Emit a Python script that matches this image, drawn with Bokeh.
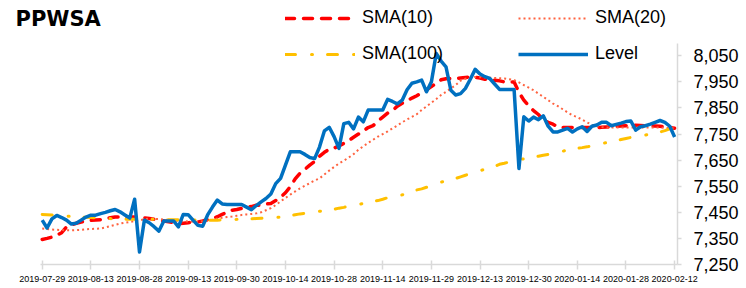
from bokeh.plotting import figure
from bokeh.models import (ColumnDataSource, FixedTicker, Legend, LegendItem,
                          NumeralTickFormatter, Range1d, Label)
from bokeh.embed import file_html
from bokeh.resources import INLINE

# ---------------- data ----------------
tick_labels = ["2019-07-29", "2019-08-13", "2019-08-28", "2019-09-13", "2019-09-30",
               "2019-10-14", "2019-10-28", "2019-11-14", "2019-11-29", "2019-12-13",
               "2019-12-30", "2020-01-14", "2020-01-28", "2020-02-12"]
y_ticks = [7250, 7350, 7450, 7550, 7650, 7750, 7850, 7950, 8050]

level = [7420, 7390, 7425, 7438, 7430, 7420, 7405, 7408, 7420, 7432,
         7439, 7439, 7445, 7450, 7456, 7461, 7452, 7440, 7428, 7500,
         7298, 7420, 7410, 7395, 7378, 7417, 7417, 7417, 7394, 7442,
         7441, 7420, 7400, 7397, 7440, 7470, 7497, 7482, 7480, 7480,
         7480, 7480, 7470, 7460, 7476, 7490, 7503, 7520, 7560, 7580,
         7631, 7682, 7682, 7682, 7672, 7660, 7656, 7700, 7762, 7776,
         7740, 7695, 7790, 7795, 7770, 7815, 7797, 7842, 7842, 7842,
         7842, 7883, 7875, 7866, 7880, 7920, 7945, 7950, 7957, 7912,
         7950, 8059, 8030, 8008, 7918, 7900, 7905, 7925, 7960, 7998,
         7980, 7970, 7963, 7942, 7921, 7921, 7921, 7921, 7618, 7816,
         7800, 7815, 7805, 7820, 7780, 7758, 7758, 7765, 7772, 7758,
         7770, 7778, 7760, 7780, 7785, 7795, 7795, 7782, 7787, 7792,
         7798, 7800, 7765, 7778, 7782, 7788, 7795, 7802, 7795, 7780,
         7739]

sma10 = [7346, 7350, 7355, 7362, 7372, 7394, 7402, 7408, 7413, 7416,
         7419, 7421, 7422, 7426, 7429, 7432, 7432, 7432, 7432, 7432,
         7432, 7429, 7426, 7423, 7420, 7417, 7414, 7411, 7407, 7408,
         7410, 7412, 7413, 7417, 7422, 7426, 7433, 7442, 7450, 7458,
         7461, 7465, 7469, 7472, 7477, 7478, 7482, 7484, 7495, 7508,
         7525, 7548, 7578, 7600, 7615, 7631, 7645, 7665, 7680, 7692,
         7696, 7705, 7714, 7725, 7738, 7750, 7762, 7775, 7782, 7800,
         7815, 7830, 7840, 7857, 7868, 7878, 7888, 7897, 7908, 7920,
         7932, 7945, 7958, 7962, 7963, 7963, 7965, 7967, 7969, 7967,
         7965, 7960, 7958, 7956, 7954, 7950, 7950, 7950, 7910, 7880,
         7858, 7840, 7825, 7805, 7795, 7788, 7777, 7775, 7775, 7775,
         7775, 7775, 7775, 7775, 7775, 7776, 7777, 7778, 7780, 7781,
         7782, 7783, 7784, 7783, 7782, 7781, 7781, 7780, 7778, 7775,
         7772]

sma20 = [7388, 7386, 7384, 7383, 7382, 7381, 7381, 7382, 7383, 7385,
         7386, 7387, 7388, 7392, 7397, 7402, 7407, 7410, 7413, 7417,
         7420, 7423, 7426, 7425, 7424, 7422, 7420, 7419, 7417, 7416,
         7415, 7414, 7413, 7416, 7419, 7422, 7426, 7429, 7432, 7434,
         7437, 7440, 7442, 7444, 7446, 7450, 7458, 7466, 7478, 7492,
         7505, 7518, 7530, 7542, 7552, 7562, 7572, 7580, 7595, 7610,
         7624, 7637, 7648, 7660, 7673, 7690, 7703, 7716, 7728, 7740,
         7750, 7760, 7772, 7783, 7795, 7806, 7816, 7826, 7842, 7856,
         7870, 7884, 7900, 7912, 7925, 7938, 7955, 7962, 7966, 7969,
         7968, 7967, 7966, 7965, 7964, 7963, 7960, 7957, 7948, 7938,
         7928, 7918, 7905, 7893, 7880, 7867, 7857, 7845, 7833, 7822,
         7815, 7805, 7795, 7785, 7780, 7777, 7775, 7775, 7775, 7775,
         7775, 7775, 7775, 7775, 7775, 7775, 7775, 7775, 7774, 7773,
         7772]

sma100 = [7442, 7441, 7440, 7438, 7437, 7436, 7434, 7433, 7432, 7431,
          7430, 7429, 7428, 7427, 7426, 7425, 7424, 7424, 7423, 7423,
          7423, 7423, 7423, 7423, 7423, 7422, 7422, 7422, 7421, 7421,
          7421, 7421, 7420, 7420, 7420, 7420, 7420, 7421, 7422, 7422,
          7423, 7423, 7424, 7425, 7426, 7427, 7428, 7429, 7430, 7432,
          7435, 7438, 7441, 7444, 7446, 7448, 7451, 7454, 7456, 7459,
          7462, 7466, 7469, 7473, 7476, 7480, 7484, 7488, 7492, 7495,
          7500, 7506, 7510, 7514, 7517, 7522, 7530, 7536, 7540, 7546,
          7552, 7557, 7566, 7570, 7576, 7580, 7586, 7592, 7598, 7603,
          7608, 7617, 7622, 7626, 7634, 7638, 7643, 7648, 7652, 7655,
          7658, 7662, 7665, 7669, 7672, 7676, 7681, 7684, 7690, 7693,
          7696, 7698, 7701, 7705, 7710, 7714, 7717, 7720, 7725, 7729,
          7733, 7737, 7740, 7743, 7746, 7750, 7754, 7758, 7763, 7770,
          7776]

idx = list(range(len(level)))
tick_pos = [i * 10 for i in range(len(tick_labels))]

src = ColumnDataSource(dict(x=idx, level=level, sma10=sma10, sma20=sma20, sma100=sma100))

FONT = "Liberation Sans"

# The plot frame covers the whole upper/left area so that the title and the
# legend (which sit above the axes in the original) are not clipped; the axis
# lines are limited with `bounds` to the original plotting region.
p = figure(width=746, height=288, output_backend="svg", toolbar_location=None,
           x_range=Range1d(-8.572, 130.59), y_range=Range1d(7250, 8262),
           y_axis_location="right",
           min_border_left=0, min_border_right=69, min_border_top=0,
           min_border_bottom=24)
p.outline_line_color = None
p.grid.visible = False
p.background_fill_color = "white"
p.border_fill_color = "white"

r10 = p.line("x", "sma10", source=src, line_color="#FF0000", line_width=3.5,
             line_dash="9 9", line_cap="round", line_join="round")
r20 = p.line("x", "sma20", source=src, line_color="#FF6340", line_width=2,
             line_dash="2 3")
r100 = p.line("x", "sma100", source=src, line_color="#FFC000", line_width=3,
              line_dash="10 16 1 15", line_cap="round")
rl = p.line("x", "level", source=src, line_color="#0070C0", line_width=3.5,
            line_join="round")

# title (screen units are relative to the frame's bottom-left corner)
title = Label(x=15, y=246, x_units="screen", y_units="screen", text="PPWSA",
              text_font="DejaVu Sans", text_font_style="bold", text_font_size="21px",
              text_color="#000000", text_baseline="alphabetic", text_align="left")
p.add_layout(title)

# axes
xa = p.xaxis[0]
xa.bounds = (-0.35, 130.55)
xa.ticker = FixedTicker(ticks=tick_pos)
xa.major_label_overrides = {t: l for t, l in zip(tick_pos, tick_labels)}
xa.major_label_text_font = FONT
xa.major_label_text_font_size = "9px"
xa.major_label_text_color = "#000000"
xa.major_label_standoff = 6
xa.axis_line_color = "#D9D9D9"
xa.axis_line_width = 1.5
xa.major_tick_line_color = "#D9D9D9"
xa.major_tick_line_width = 1.5
xa.major_tick_in = 4
xa.major_tick_out = 5
xa.minor_tick_line_color = None

ya = p.yaxis[0]
ya.bounds = (7250, 8097)
ya.ticker = FixedTicker(ticks=y_ticks)
ya.formatter = NumeralTickFormatter(format="0,0")
ya.major_label_text_font = FONT
ya.major_label_text_font_size = "18px"
ya.major_label_text_color = "#000000"
ya.major_label_standoff = 12
ya.axis_line_color = "#D9D9D9"
ya.axis_line_width = 1.5
ya.major_tick_line_color = "#D9D9D9"
ya.major_tick_line_width = 1.5
ya.major_tick_in = 0
ya.major_tick_out = 4
ya.minor_tick_line_color = None


def make_legend(items, x):
    return Legend(items=items, location=(x, 200), orientation="vertical",
                  glyph_width=70, glyph_height=20, label_height=20,
                  label_standoff=7, spacing=15, padding=0, margin=0,
                  border_line_color=None, background_fill_alpha=0,
                  label_text_font=FONT, label_text_font_size="18px",
                  label_text_color="#000000")


leg1 = make_legend([LegendItem(label="SMA(10)", renderers=[r10]),
                    LegendItem(label="SMA(100)", renderers=[r100])], 285)
leg2 = make_legend([LegendItem(label="SMA(20)", renderers=[r20]),
                    LegendItem(label="Level", renderers=[rl])], 518)
p.add_layout(leg1, "center")
p.add_layout(leg2, "center")

open("out.html", "w").write(file_html(p, INLINE))
